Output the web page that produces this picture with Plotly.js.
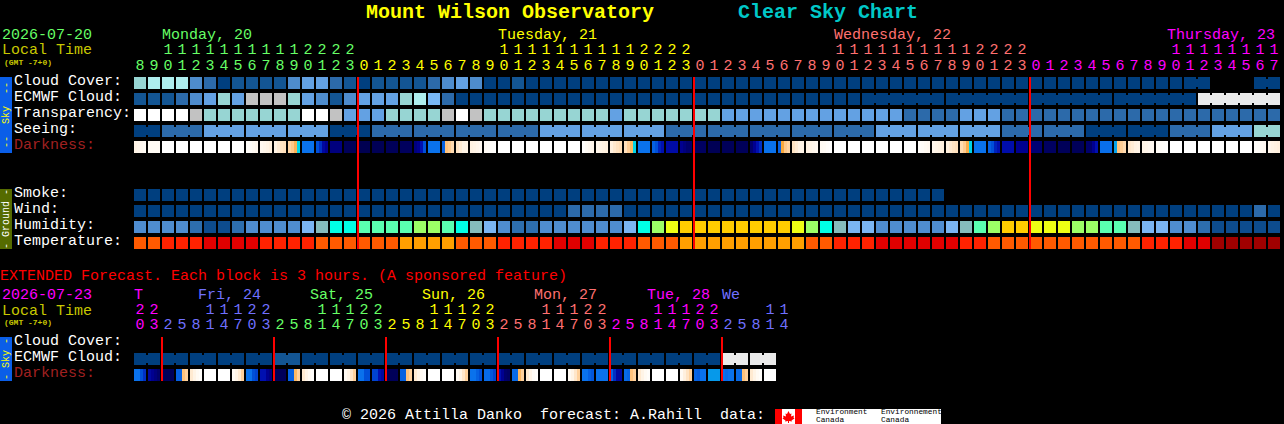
<!DOCTYPE html>
<html>
<head>
<meta charset="utf-8">
<script src="https://cdn.plot.ly/plotly-3.0.1.min.js"></script>
<style>
html, body { margin: 0; padding: 0; background: #000; }
#chart { width: 1284px; height: 424px; }
</style>
</head>
<body>
<div id="chart"></div>
<script>
// hours along the top of each table
var hours = [8,9,10,11,12,13,14,15,16,17,18,19,20,21,22,23,
    0,1,2,3,4,5,6,7,8,9,10,11,12,13,14,15,16,17,18,19,20,21,22,23,
    0,1,2,3,4,5,6,7,8,9,10,11,12,13,14,15,16,17,18,19,20,21,22,23,
    0,1,2,3,4,5,6,7,8,9,10,11,12,13,14,15,16,17];
var extHours = [20,23,2,5,8,11,14,17,20,23,2,5,8,11,14,17,20,23,2,5,8,11,14,17,
    20,23,2,5,8,11,14,17,20,23,2,5,8,11,14,17,20,23,2,5,8,11,14];

// sky levels: 0 clear .. 10 overcast, null = no forecast
var cloudCover = [6,7,7,7,3,2,0,1,1,1,1,3,4,4,2,1,0,1,1,1,1,2,3,4,3,0,0,1,
    0,0,0,0,0,0,0,0,0,0,0,0,0,0,0,0,0,0,0,0,0,0,0,0,0,0,0,0,0,0,0,0,0,0,0,0,0,0,0,0,0,0,0,0,0,0,0,0,0,
    null,null,null,0,0];
var ecmwfCloud = [1,1,1,2,3,4,6,4,8,8,8,6,4,3,1,3,4,4,4,6,7,5,2,
    0,0,0,0,0,0,0,0,0,0, 0,0,0,0,0,0,0,0,0,0, 0,0,0,0,0,0,0,0,0,0, 0,0,0,0,0,0,0,0,0,0, 0,0,0,0,0,0,0,0,0,0, 0,0,0,
    9,9,9,9,9,9];
var transparency = [10,10,10,10,8,6,6,6,6,6,6,6,10,10,8,4,4,4,6,6,6,6,8,10,8,
    6,6,6,6,6,6,6,6,6,4,6,6,6,6,6,6,6,
    4,4,4,4,4,4,4,4,4,4,4,4,4,2,2,2,2,4,4,4,
    2,2,2,2,2,2,2,2,2,2,2,2,2,2,2,2,2,2,2,2];
var seeing = [0,0,2,2,2,4,4,4,4,4,4,4,4,4,0,0,0,2,2,2,2,2,2,2,2,2,2,2,2,
    4,4,4,4,4,4,4,4,4,2,2,2,2,2,2,2,2,2,2,2,2,2,2,2,
    4,4,4,4,4,4,4,4,4,2,2,2,2,2,2,0,0,0,0,0,0,2,2,2,4,4,4,6,6];
var smoke = [0,0,0,0,0,0,0,0,0,0,0,0,0,0,0,0,0,0,0,0,0,0,0,0,0,0,0,0,0,
    0,0,0,0,0,0,0,0,0,0,0,0,0,0,0,0,0,0,0,0,0,0,0,0,0,0,0,0,0];
var wind = [0,0,0,0,0,0,0,0,0,0,0,0,0,0,0,0,0,0,0,0,0,0,0,0,0,0,0,0,0,0,0,
    2,2,2,2,0,0,0,0,0,0,0,0,0,0,0,0,0,0,0,0,0,0,0,0,0,0,0,0,0,0,0,0,0,0,0,0,0,0,0,0,0,0,0,0,0,0,0,0,0,2,0];
var humidity = [2,2,2,2,1,0,0,1,2,2,2,2,3,4,5,5,6,6,6,6,7,7,6,5,4,3,2,1,1,2,2,2,2,2,2,3,5,7,8,
    9,9,9,9,9,9,9,9,8,7,5,4,3,3,2,2,2,2,2,3,4,6,7,9,9,8,8,8,7,7,6,6,4,3,3,2,2,1,0,0,0,0,0];
var temperature = [3,3,2,2,2,1,1,1,1,2,2,2,2,3,3,3,3,3,3,4,4,4,4,3,3,3,2,2,2,2,1,1,1,2,2,2,3,3,3,
    4,4,4,4,4,4,4,4,4,3,3,2,2,2,1,1,1,1,1,1,2,2,3,3,3,3,3,3,3,3,3,3,3,2,2,2,1,1,0,0,0,0,0];

// limiting magnitude; a block with a list fades across its width
var W = -4;
var darkness = [[-3,-3.2,-3.4,-3.6],-3.6,W,W,W,W,W,W,[-3.8,-3.7,-3.5,-3.3],[-3.4,-3.2,-3,-2.8],[-3,-2.6,-2.2,-2],[-1.6,-1.2,-0.7,0],1,[2,2.5,3.5,4],
    4.5,5.5,5.7,5.6,5.5,5.4,[4.5,4,3,2],1,[1.5,-1,-1.3,-1.8],[-2.2,-2.6,-3,-3],[-2.9,-3,-3.2,-3.4],[-3.6,-3.7,-3.8,-3.9],
    W,W,W,W,W,W,[-3.9,-3.6,-3.4,-3.2],[-3.2,-3,-2.9,-2.8],[-2.8,-2.4,-2.1,-1.9],[-2,-1.4,-0.8,0],1,[1.5,2,2.7,3],3.3,[4,4.5,5,5],5.3,5.6,5.5,5.5,
    [5,4,3,2.5],1,[1.5,-0.5,-1.2,-1.6],[-2.2,-2.6,-3,-3],[-2.9,-3,-3.2,-3.4],[-3.5,-3.6,-3.8,-3.9],W,W,W,W,W,W,
    [-3.8,-3.7,-3.5,-3.4],[-3.2,-3,-2.9,-2.8],[-2.8,-2.5,-2.2,-2],[-1.8,-1.3,-0.6,0],1,[1.5,2,2.7,3],3.2,4,4.8,5.3,5.5,5.5,[5,5,4,3],1.1,[0.5,-1,-1.4,-1.8],
    [-2.4,-2.6,-2.9,-3],[-3,-3.1,-3.3,-3.4],[-3.6,-3.7,-3.8,-3.9],W,W,W,W,W,W,[-3.8,-3.7,-3.5,-3.4],[-3.2,-3,-2.9,-2.8]];

// extended table, one block = 3 hours
var extEcmwf = [0,0,0,0,0,0,0,0,0,0,1,1,0,0,0,0,0,0,0,0,0,0,0,0,0,0,0,0,0,0,0,0,0,0,0,0,0,0,0,0,0,0,9,9,9,9];
var extDarkness = [[1,1,2,2.5],[3.5,4,4.5,5],5.5,[1.5,1.5,-1,-1.5],[-2.5,-3,-3.5,-3.8],W,W,[-3.5,-3,-2.5,-1.5],
    [1,1,2,2.2],[3,3,4,4.5],5.5,[1.5,1.5,-0.8,-1.5],[-2.5,-3,-3.5,-3.8],W,W,[-3.5,-3,-2.3,-1.5],
    [1,1,2,2],[2.2,2.2,3,3.5],5.5,[1.5,1.5,-1,-1.5],[-2.5,-3,-3.5,-3.8],W,W,[-3.5,-3,-2.3,-1.5],
    [1,1,1.5,2],[1.2,1.2,1.8,2.2],[3,4,5,5.2],[1.2,1.2,-0.8,-1.5],[-2.5,-3,-3.6,-3.8],W,W,[-3.5,-3,-2.3,-1.5],
    [1,1,1.5,1.8],1,[1.5,2.5,3.5,3.5],[1.2,1.4,-1,-1.5],[-2.5,-3,-3.5,-3.8],W,W,[-3.5,-2.8,-2.2,-1.5],
    [1.4,1.6,1,1],0.6,[1,1.2,1,1],[1.2,1.2,-1,-1.5],[-2.5,-3,-3.5,-3.8],W];

// column where each midnight falls
var midnights = [16,40,64];
var extMidnights = [2,10,18,26,34,42];

// joined runs of blocks, first and last column of each
var cloudRuns = [[75,76],[80,81]];
var ecmwfRuns = [[52,57],[58,63],[64,69],[70,75],[76,81]];
var seeingRuns = [[0,1]];
for (var s = 2; s < 80; s += 3) seeingRuns.push([s, s + 2]);
seeingRuns.push([80,81]);
var extRuns = [];
for (var e = 0; e < 46; e += 2) extRuns.push([e, e + 1]);

var skyColors = ['#003f7f','#135593','#2c6aaa','#4e8ccd','#63a1e3','#79b8f5','#97d5d3','#aeeeee','#c2c2c2','#eaeaea','#ffffff'];
var humidityColors = ['#0d4c8e','#2d6eae','#4f8dd0','#7ab5f2','#85bcbc','#00ffe6','#5affb0','#9cff66','#eeff14','#ffcc00'];
var temperatureColors = ['#a00000','#e00000','#ff2200','#ff5a00','#ff9f00'];
var darknessScale = [[0,'#ffffff'],[0.1,'#fff4e6'],[0.2,'#ffe0bc'],[0.3,'#ffc27c'],[0.35,'#f9a83c'],[0.4,'#00d4e8'],
    [0.5,'#0a72ec'],[0.6,'#0050d8'],[0.7,'#0010b0'],[0.8,'#000090'],[0.9,'#00006c'],[1,'#000046']];

var green = '#66ff66', yellow = '#ffff00', salmon = '#ff7070', magenta = '#ff00ff', violet = '#7070ff';
var olive = '#c8c800';
var mono = '"Liberation Mono", monospace';

// axes: x counts columns (14px each), y is in pixels from the top
function colOf(px) { return (px - 140) / 14; }
var blockW = 12 / 14, blockH = 12;

function blockRow(values, palette, top) {
    var xs = [], cs = [];
    values.forEach(function (v, i) {
        if (v === null) return;
        xs.push(i);
        cs.push(palette[v]);
    });
    return { type: 'bar', x: xs, y: xs.map(function () { return blockH; }), base: top,
        width: blockW, marker: { color: cs, line: { width: 0 } }, hoverinfo: 'skip' };
}

function linkRow(values, palette, runs, top) {
    var xs = [], cs = [];
    runs.forEach(function (r) {
        for (var i = r[0]; i < r[1]; i++) {
            xs.push(i + 0.5);
            cs.push(palette[values[i]]);
        }
    });
    return { type: 'bar', x: xs, y: xs.map(function () { return 8; }), base: top + 2,
        width: 2 / 14, marker: { color: cs, line: { width: 0 } }, hoverinfo: 'skip' };
}

function darknessRow(values, top) {
    var xs = [], zs = [], ws = [];
    values.forEach(function (v, i) {
        var parts = Array.isArray(v) ? v : [v];
        var w = blockW / parts.length;
        parts.forEach(function (p, j) {
            xs.push(i - blockW / 2 + w * (j + 0.5));
            zs.push(p);
            ws.push(w);
        });
    });
    return { type: 'bar', x: xs, y: xs.map(function () { return blockH; }), base: top, width: ws,
        marker: { color: zs, colorscale: darknessScale, cmin: -4, cmax: 6, showscale: false, line: { width: 0 } },
        hoverinfo: 'skip' };
}

function hourDigits(list, colorOf, tensY, onesY) {
    var xs = [], ys = [], txt = [], cols = [];
    list.forEach(function (h, i) {
        if (h >= 10) {
            xs.push(i); ys.push(tensY); txt.push(String(Math.floor(h / 10))); cols.push(colorOf(i));
        }
        xs.push(i); ys.push(onesY); txt.push(String(h % 10)); cols.push(colorOf(i));
    });
    return { type: 'scatter', mode: 'text', x: xs, y: ys, text: txt,
        textposition: 'middle center', textfont: { family: mono, size: 15, color: cols }, hoverinfo: 'skip' };
}

function mainDayColor(i) {
    if (i < midnights[0]) return green;
    if (i < midnights[1]) return yellow;
    if (i < midnights[2]) return salmon;
    return magenta;
}

function extDayColor(i) {
    var seq = [magenta, violet, green, yellow, salmon, magenta, violet];
    return seq[Math.floor((i + 6) / 8)];
}

var traces = [
    blockRow(cloudCover, skyColors, 77), linkRow(cloudCover, skyColors, cloudRuns, 77),
    blockRow(ecmwfCloud, skyColors, 93), linkRow(ecmwfCloud, skyColors, ecmwfRuns, 93),
    blockRow(transparency, skyColors, 109),
    blockRow(seeing, skyColors, 125), linkRow(seeing, skyColors, seeingRuns, 125),
    darknessRow(darkness, 141),
    blockRow(smoke, skyColors, 189),
    blockRow(wind, skyColors, 205),
    blockRow(humidity, humidityColors, 221),
    blockRow(temperature, temperatureColors, 237),
    blockRow(extEcmwf, skyColors, 353), linkRow(extEcmwf, skyColors, extRuns, 353),
    darknessRow(extDarkness, 369),
    hourDigits(hours, mainDayColor, 50, 66.5),
    hourDigits(extHours, extDayColor, 310, 325.5)
];

function label(text, px, py, color, size, bold) {
    // annotations carry 1px of padding, xshift takes it back
    return { text: bold ? '<b>' + text + '</b>' : text, x: colOf(px), y: py, xref: 'x', yref: 'y', xshift: -1,
        xanchor: 'left', yanchor: 'middle', showarrow: false, align: 'left', borderpad: 0,
        font: { family: mono, size: size || 15, color: color } };
}

function sideText(text, py, color) {
    return { text: text, x: colOf(6), y: py, xref: 'x', yref: 'y', textangle: -90,
        xanchor: 'center', yanchor: 'middle', showarrow: false,
        font: { family: mono, size: 10, color: color } };
}

var annotations = [
    label('Mount Wilson Observatory', 366, 12, yellow, 20, true),
    label('Clear Sky Chart', 738, 12, '#00c8c8', 20, true),
    label('2026-07-20', 2, 35, green),
    label('Local Time', 2, 50, olive),
    label('(GMT -7+0)', 4, 62, olive, 8, true),
    label('Monday, 20', 162, 35, green),
    label('Tuesday, 21', 498, 35, yellow),
    label('Wednesday, 22', 834, 35, salmon),
    label('Thursday, 23', 1167, 35, magenta),
    label('Cloud Cover:', 14, 81, '#ffffff'),
    label('ECMWF Cloud:', 14, 97, '#ffffff'),
    label('Transparency:', 14, 113, '#ffffff'),
    label('Seeing:', 14, 129, '#ffffff'),
    label('Darkness:', 14, 145, '#a02020'),
    label('Smoke:', 14, 193, '#ffffff'),
    label('Wind:', 14, 209, '#ffffff'),
    label('Humidity:', 14, 225, '#ffffff'),
    label('Temperature:', 14, 241, '#ffffff'),
    label('EXTENDED Forecast. Each block is 3 hours. (A sponsored feature)', 0, 276, '#ff0000'),
    label('2026-07-23', 2, 295, magenta),
    label('Local Time', 2, 311, olive),
    label('(GMT -7+0)', 4, 322, olive, 8, true),
    label('T', 134, 295, magenta),
    label('Fri, 24', 198, 295, violet),
    label('Sat, 25', 310, 295, green),
    label('Sun, 26', 422, 295, yellow),
    label('Mon, 27', 534, 295, salmon),
    label('Tue, 28', 647, 295, magenta),
    label('We', 722, 295, violet),
    label('Cloud Cover:', 14, 341, '#ffffff'),
    label('ECMWF Cloud:', 14, 357, '#ffffff'),
    label('Darkness:', 14, 373, '#a02020'),
    label('\u00a9 2026 Attilla Danko  forecast: A.Rahill  data:', 342, 415, '#ffffff'),
    sideText('--  Sky  --', 115, yellow),
    sideText('- Ground -', 219, '#ffffff'),
    sideText('- Sky -', 359, yellow),
    label('Environment', 816, 412, '#000000', 7.8),
    label('Canada', 816, 419.5, '#000000', 7.8),
    label('Environnement', 881, 412, '#000000', 7.8),
    label('Canada', 881, 419.5, '#000000', 7.8)
];

function rect(x0, x1, y0, y1, color) {
    return { type: 'rect', xref: 'x', yref: 'y', x0: colOf(x0), x1: colOf(x1), y0: y0, y1: y1,
        fillcolor: color, line: { width: 0 }, layer: 'below' };
}

function midnightLine(col, y0, y1) {
    // the red line sits just over the left edge of the midnight block
    var x = col - 0.43;
    return { type: 'line', xref: 'x', yref: 'y', x0: x, x1: x, y0: y0, y1: y1,
        line: { color: '#ff0000', width: 2 } };
}

// maple leaf outline for the flag, in pixels
var leafOutline = [[788.5,411],[790,414],[791.5,413.5],[791,416.5],[794,415.5],[793.5,417.5],[794.5,418.5],[791.5,420.5],[792,421.5],[789,421],[789,423],[788,423],[788,421],[785,421.5],[785.5,420.5],[782.5,418.5],[783.5,417.5],[783,415.5],[786,416.5],[785.5,413.5],[787,414]];
var leafPath = 'M' + leafOutline.map(function (p) { return colOf(p[0]) + ',' + p[1]; }).join('L') + 'Z';

var shapes = [
    rect(0, 12, 77, 153, '#0a5ee8'),
    rect(0, 12, 189, 249, '#556b00'),
    rect(0, 12, 337, 381, '#0a5ee8'),
    // Canadian flag and the white strip behind the agency names
    rect(775, 941, 409, 424, '#ffffff'),
    rect(775, 782, 409, 424, '#ff0000'),
    rect(795, 802, 409, 424, '#ff0000'),
    { type: 'path', xref: 'x', yref: 'y', path: leafPath, fillcolor: '#ff0000', line: { width: 0 }, layer: 'below' }
];
midnights.forEach(function (c) { shapes.push(midnightLine(c, 77, 249)); });
extMidnights.forEach(function (c) { shapes.push(midnightLine(c, 337, 381)); });

var layout = {
    width: 1284, height: 424,
    margin: { l: 0, r: 0, t: 0, b: 0 },
    paper_bgcolor: '#000000', plot_bgcolor: '#000000',
    showlegend: false, barmode: 'overlay',
    bargap: 0,
    xaxis: { range: [colOf(0), colOf(1284)], visible: false, fixedrange: true },
    yaxis: { range: [424, 0], visible: false, fixedrange: true },
    annotations: annotations,
    shapes: shapes
};

Plotly.newPlot('chart', traces, layout, { displayModeBar: false, staticPlot: true });
</script>
</body>
</html>
